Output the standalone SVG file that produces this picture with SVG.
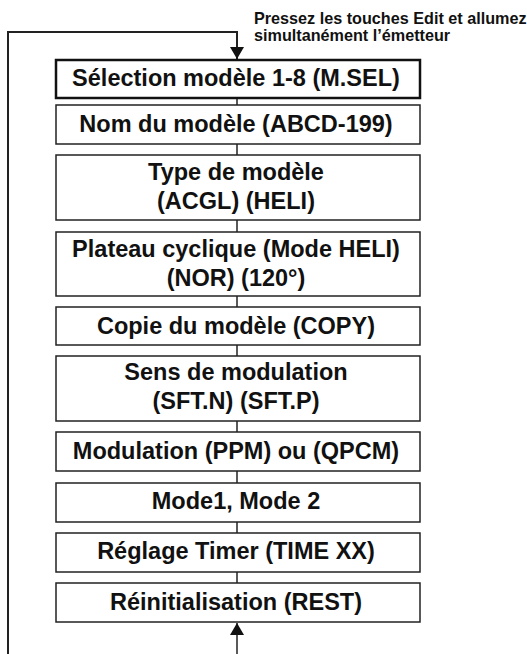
<svg xmlns="http://www.w3.org/2000/svg" width="527" height="654" viewBox="0 0 527 654">
<style>
.box{fill:#fff;stroke:#222;stroke-width:1.5}
.box1{fill:#fff;stroke:#111;stroke-width:2.5}
.t{font-family:"Liberation Sans",Arial,sans-serif;font-weight:bold;font-size:23.5px;fill:#111;text-anchor:middle}
.note{font-family:"Liberation Sans",Arial,sans-serif;font-weight:bold;font-size:16.2px;fill:#111}
.c{stroke:#222;stroke-width:1.5;fill:none}
.loop{stroke:#222;stroke-width:2;fill:none}
</style>
<defs>
<marker id="ah" viewBox="0 0 12 14" refX="12" refY="7" markerWidth="12" markerHeight="14" markerUnits="userSpaceOnUse" orient="auto">
<path d="M0,0 L12,7 L0,14 Z" fill="#111"/>
</marker>
</defs>
<g id="connectors">
<path class="loop" d="M8,654 L8,32 L237,32 L237,59" marker-end="url(#ah)"/>
<path class="c" d="M237,654 L237,623" marker-end="url(#ah)"/>
<line class="c" x1="237" y1="98" x2="237" y2="105"/>
<line class="c" x1="237" y1="144" x2="237" y2="155"/>
<line class="c" x1="237" y1="220" x2="237" y2="232"/>
<line class="c" x1="237" y1="296" x2="237" y2="307"/>
<line class="c" x1="237" y1="345" x2="237" y2="356"/>
<line class="c" x1="237" y1="421" x2="237" y2="432"/>
<line class="c" x1="237" y1="471" x2="237" y2="483"/>
<line class="c" x1="237" y1="522" x2="237" y2="533"/>
<line class="c" x1="237" y1="572" x2="237" y2="583"/>
</g>
<g id="note">
<text class="note" x="254" y="24">Pressez les touches Edit et allumez</text>
<text class="note" x="254" y="41">simultanément l’émetteur</text>
</g>
<g id="n1"><rect class="box1" x="56" y="60" width="364" height="38"/><text class="t" x="236" y="86">Sélection modèle 1-8 (M.SEL)</text></g>
<g id="n2"><rect class="box" x="56" y="105" width="364" height="39"/><text class="t" x="236" y="132">Nom du modèle (ABCD-199)</text></g>
<g id="n3"><rect class="box" x="56" y="155" width="364" height="65"/><text class="t" x="236" y="180">Type de modèle</text><text class="t" x="236" y="209">(ACGL) (HELI)</text></g>
<g id="n4"><rect class="box" x="56" y="232" width="364" height="64"/><text class="t" x="236" y="257">Plateau cyclique (Mode HELI)</text><text class="t" x="236" y="286">(NOR) (120°)</text></g>
<g id="n5"><rect class="box" x="56" y="307" width="364" height="38"/><text class="t" x="236" y="334">Copie du modèle (COPY)</text></g>
<g id="n6"><rect class="box" x="56" y="356" width="364" height="65"/><text class="t" x="236" y="380">Sens de modulation</text><text class="t" x="236" y="409">(SFT.N) (SFT.P)</text></g>
<g id="n7"><rect class="box" x="56" y="432" width="364" height="39"/><text class="t" x="236" y="459">Modulation (PPM) ou (QPCM)</text></g>
<g id="n8"><rect class="box" x="56" y="483" width="364" height="39"/><text class="t" x="236" y="509">Mode1, Mode 2</text></g>
<g id="n9"><rect class="box" x="56" y="533" width="364" height="39"/><text class="t" x="236" y="559">Réglage Timer (TIME XX)</text></g>
<g id="n10"><rect class="box" x="56" y="583" width="364" height="39"/><text class="t" x="236" y="610">Réinitialisation (REST)</text></g>
</svg>
